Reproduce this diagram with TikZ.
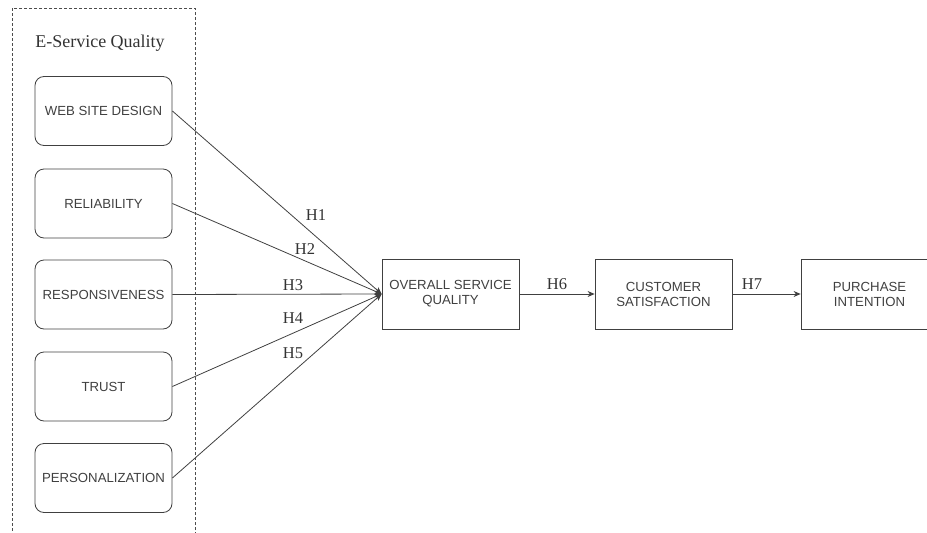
\documentclass[tikz,border=0pt]{standalone}
\usepackage{fontspec}
\setmainfont{Liberation Serif}
\newfontfamily\boxfont{Liberation Sans}
\usetikzlibrary{arrows.meta}
\begin{document}
\begin{tikzpicture}[x=1pt,y=-1pt,
  line width=0.8pt,
  factor/.style={draw=black!75,rounded corners=9pt,minimum width=137pt,minimum height=69pt,inner sep=0pt,font=\boxfont\fontsize{13.2}{15}\selectfont,text=black!75},
  stage/.style={draw=black!75,minimum width=137pt,minimum height=70pt,inner sep=0pt,align=center,font=\boxfont\fontsize{13.2}{15}\selectfont,text=black!75},
  hyp/.style={font=\fontsize{16.5}{18}\selectfont,text=black!80},
  link/.style={draw=black!75,-{Stealth[length=7pt,width=6pt]}}]
\useasboundingbox (0,0) rectangle (927,533);
\draw[black!70,densely dashed,line width=0.6pt] (12,8) rectangle (195,540);
\node[font=\fontsize{18}{20}\selectfont,text=black!80] (title) at (100,43) {E-Service Quality};
\node[factor] (web) at (103.5,111) {WEB SITE DESIGN};
\node[factor] (rel) at (103.5,203.5) {RELIABILITY};
\node[factor] (res) at (103.5,294.5) {RESPONSIVENESS};
\node[factor] (tru) at (103.5,386.5) {TRUST};
\node[factor] (per) at (103.5,478) {PERSONALIZATION};
\node[stage] (osq) at (450.5,294) {OVERALL SERVICE\\QUALITY};
\node[stage] (cs) at (663.5,294) {CUSTOMER\\SATISFACTION};
\node[stage] (pi) at (869.5,294) {PURCHASE\\INTENTION};
\coordinate (tip) at (osq.west);
\draw[link] (web.east) -- (tip);
\draw[link] (rel.east) -- (tip);
\draw[link] (res.east) -- (tip);
\draw[link] (tru.east) -- (tip);
\draw[link] (per.east) -- (tip);
\draw[link] (osq) -- (cs);
\draw[link] (cs) -- (pi);
\node[hyp] (h1) at (316,215) {H1};
\node[hyp] (h2) at (305,249) {H2};
\node[hyp] (h3) at (293,285) {H3};
\node[hyp] (h4) at (293,318) {H4};
\node[hyp] (h5) at (293,353) {H5};
\node[hyp] (h6) at (557,284) {H6};
\node[hyp] (h7) at (752,284) {H7};
\end{tikzpicture}
\end{document}
